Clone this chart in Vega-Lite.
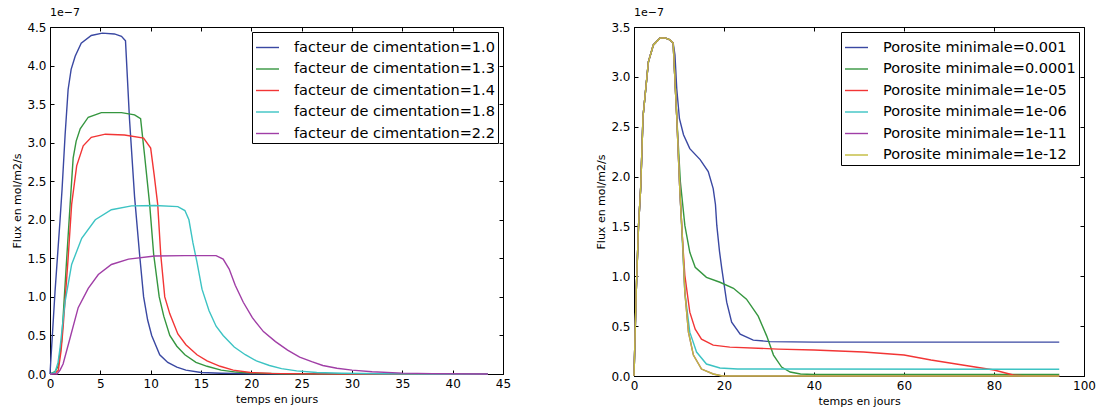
{
  "$schema": "https://vega.github.io/schema/vega-lite/v6.json",
  "background": "white",
  "padding": {"left": 11, "top": 6, "right": 5, "bottom": 5},
  "spacing": 83,
  "config": {
    "font": "DejaVu Sans",
    "view": {"stroke": "black", "strokeWidth": 1},
    "axis": {"grid": false, "domainColor": "black", "tickColor": "black", "tickSize": -4, "labelPadding": 8, "labelFontSize": 12, "labelColor": "black", "titleFontSize": 11, "titleFontWeight": "normal", "titleColor": "black", "labelFont": "DejaVu Sans", "titleFont": "DejaVu Sans", "titlePadding": 4, "labelFlush": false},
    "legend": {"labelFontSize": 14.5, "labelFont": "DejaVu Sans", "labelColor": "black", "symbolType": "stroke", "symbolStrokeWidth": 1.5, "symbolSize": 529, "strokeColor": "black", "fillColor": "white", "padding": 3, "rowPadding": 2.5, "labelOffset": 14, "offset": 5, "cornerRadius": 0, "labelLimit": 400},
    "title": {"fontSize": 11, "fontWeight": "normal", "anchor": "start", "frame": "group", "font": "DejaVu Sans", "offset": 3, "color": "black"},
    "line": {"strokeWidth": 1.4}
  },
  "datasets": {
    "cim": [
      {"t": 0, "f": 0, "s": "facteur de cimentation=1.0"},
      {"t": 0.5, "f": 1.07, "s": "facteur de cimentation=1.0"},
      {"t": 1.0, "f": 2.0, "s": "facteur de cimentation=1.0"},
      {"t": 1.2, "f": 2.4, "s": "facteur de cimentation=1.0"},
      {"t": 1.5, "f": 3.1, "s": "facteur de cimentation=1.0"},
      {"t": 1.8, "f": 3.69, "s": "facteur de cimentation=1.0"},
      {"t": 2.1, "f": 3.95, "s": "facteur de cimentation=1.0"},
      {"t": 2.5, "f": 4.12, "s": "facteur de cimentation=1.0"},
      {"t": 3.1, "f": 4.29, "s": "facteur de cimentation=1.0"},
      {"t": 4.1, "f": 4.39, "s": "facteur de cimentation=1.0"},
      {"t": 5.2, "f": 4.42, "s": "facteur de cimentation=1.0"},
      {"t": 6.4, "f": 4.41, "s": "facteur de cimentation=1.0"},
      {"t": 7.1, "f": 4.38, "s": "facteur de cimentation=1.0"},
      {"t": 7.5, "f": 4.32, "s": "facteur de cimentation=1.0"},
      {"t": 7.9, "f": 3.3, "s": "facteur de cimentation=1.0"},
      {"t": 8.4, "f": 2.3, "s": "facteur de cimentation=1.0"},
      {"t": 8.9, "f": 1.55, "s": "facteur de cimentation=1.0"},
      {"t": 9.3, "f": 1.0, "s": "facteur de cimentation=1.0"},
      {"t": 9.7, "f": 0.7, "s": "facteur de cimentation=1.0"},
      {"t": 10.1, "f": 0.5, "s": "facteur de cimentation=1.0"},
      {"t": 10.9, "f": 0.25, "s": "facteur de cimentation=1.0"},
      {"t": 11.7, "f": 0.15, "s": "facteur de cimentation=1.0"},
      {"t": 12.6, "f": 0.09, "s": "facteur de cimentation=1.0"},
      {"t": 13.5, "f": 0.05, "s": "facteur de cimentation=1.0"},
      {"t": 15, "f": 0.02, "s": "facteur de cimentation=1.0"},
      {"t": 17, "f": 0.01, "s": "facteur de cimentation=1.0"},
      {"t": 20, "f": 0.003, "s": "facteur de cimentation=1.0"},
      {"t": 25, "f": 0, "s": "facteur de cimentation=1.0"},
      {"t": 43.5, "f": 0, "s": "facteur de cimentation=1.0"},

      {"t": 0, "f": 0, "s": "facteur de cimentation=1.3"},
      {"t": 0.5, "f": 0.03, "s": "facteur de cimentation=1.3"},
      {"t": 0.8, "f": 0.1, "s": "facteur de cimentation=1.3"},
      {"t": 1.16, "f": 0.43, "s": "facteur de cimentation=1.3"},
      {"t": 1.4, "f": 0.95, "s": "facteur de cimentation=1.3"},
      {"t": 1.66, "f": 1.5, "s": "facteur de cimentation=1.3"},
      {"t": 2.0, "f": 2.2, "s": "facteur de cimentation=1.3"},
      {"t": 2.3, "f": 2.8, "s": "facteur de cimentation=1.3"},
      {"t": 2.6, "f": 3.02, "s": "facteur de cimentation=1.3"},
      {"t": 3.0, "f": 3.18, "s": "facteur de cimentation=1.3"},
      {"t": 3.8, "f": 3.33, "s": "facteur de cimentation=1.3"},
      {"t": 5.1, "f": 3.39, "s": "facteur de cimentation=1.3"},
      {"t": 7.1, "f": 3.39, "s": "facteur de cimentation=1.3"},
      {"t": 8.4, "f": 3.36, "s": "facteur de cimentation=1.3"},
      {"t": 9.0, "f": 3.31, "s": "facteur de cimentation=1.3"},
      {"t": 9.4, "f": 2.83, "s": "facteur de cimentation=1.3"},
      {"t": 9.9, "f": 2.2, "s": "facteur de cimentation=1.3"},
      {"t": 10.3, "f": 1.55, "s": "facteur de cimentation=1.3"},
      {"t": 10.85, "f": 1.0, "s": "facteur de cimentation=1.3"},
      {"t": 11.3, "f": 0.75, "s": "facteur de cimentation=1.3"},
      {"t": 11.9, "f": 0.5, "s": "facteur de cimentation=1.3"},
      {"t": 12.6, "f": 0.36, "s": "facteur de cimentation=1.3"},
      {"t": 13.4, "f": 0.25, "s": "facteur de cimentation=1.3"},
      {"t": 14.5, "f": 0.15, "s": "facteur de cimentation=1.3"},
      {"t": 15.6, "f": 0.1, "s": "facteur de cimentation=1.3"},
      {"t": 17, "f": 0.05, "s": "facteur de cimentation=1.3"},
      {"t": 18.5, "f": 0.025, "s": "facteur de cimentation=1.3"},
      {"t": 20, "f": 0.012, "s": "facteur de cimentation=1.3"},
      {"t": 23, "f": 0.004, "s": "facteur de cimentation=1.3"},
      {"t": 27, "f": 0, "s": "facteur de cimentation=1.3"},
      {"t": 43.5, "f": 0, "s": "facteur de cimentation=1.3"},

      {"t": 0, "f": 0, "s": "facteur de cimentation=1.4"},
      {"t": 0.5, "f": 0.01, "s": "facteur de cimentation=1.4"},
      {"t": 0.83, "f": 0.05, "s": "facteur de cimentation=1.4"},
      {"t": 1.1, "f": 0.3, "s": "facteur de cimentation=1.4"},
      {"t": 1.3, "f": 0.6, "s": "facteur de cimentation=1.4"},
      {"t": 1.8, "f": 1.5, "s": "facteur de cimentation=1.4"},
      {"t": 2.15, "f": 2.2, "s": "facteur de cimentation=1.4"},
      {"t": 2.65, "f": 2.7, "s": "facteur de cimentation=1.4"},
      {"t": 3.3, "f": 2.96, "s": "facteur de cimentation=1.4"},
      {"t": 4.1, "f": 3.07, "s": "facteur de cimentation=1.4"},
      {"t": 5.5, "f": 3.11, "s": "facteur de cimentation=1.4"},
      {"t": 7.4, "f": 3.1, "s": "facteur de cimentation=1.4"},
      {"t": 9.3, "f": 3.06, "s": "facteur de cimentation=1.4"},
      {"t": 10.0, "f": 2.93, "s": "facteur de cimentation=1.4"},
      {"t": 10.35, "f": 2.58, "s": "facteur de cimentation=1.4"},
      {"t": 10.7, "f": 2.2, "s": "facteur de cimentation=1.4"},
      {"t": 11.0, "f": 1.55, "s": "facteur de cimentation=1.4"},
      {"t": 11.4, "f": 1.0, "s": "facteur de cimentation=1.4"},
      {"t": 11.9, "f": 0.78, "s": "facteur de cimentation=1.4"},
      {"t": 12.7, "f": 0.52, "s": "facteur de cimentation=1.4"},
      {"t": 13.5, "f": 0.38, "s": "facteur de cimentation=1.4"},
      {"t": 14.6, "f": 0.25, "s": "facteur de cimentation=1.4"},
      {"t": 15.6, "f": 0.17, "s": "facteur de cimentation=1.4"},
      {"t": 16.9, "f": 0.1, "s": "facteur de cimentation=1.4"},
      {"t": 18.2, "f": 0.05, "s": "facteur de cimentation=1.4"},
      {"t": 19.9, "f": 0.02, "s": "facteur de cimentation=1.4"},
      {"t": 22, "f": 0.008, "s": "facteur de cimentation=1.4"},
      {"t": 26, "f": 0.002, "s": "facteur de cimentation=1.4"},
      {"t": 30, "f": 0, "s": "facteur de cimentation=1.4"},
      {"t": 43.5, "f": 0, "s": "facteur de cimentation=1.4"},

      {"t": 0, "f": 0, "s": "facteur de cimentation=1.8"},
      {"t": 0.5, "f": 0.02, "s": "facteur de cimentation=1.8"},
      {"t": 0.8, "f": 0.15, "s": "facteur de cimentation=1.8"},
      {"t": 1.0, "f": 0.34, "s": "facteur de cimentation=1.8"},
      {"t": 1.5, "f": 0.94, "s": "facteur de cimentation=1.8"},
      {"t": 2.15, "f": 1.42, "s": "facteur de cimentation=1.8"},
      {"t": 3.15, "f": 1.76, "s": "facteur de cimentation=1.8"},
      {"t": 4.5, "f": 2.0, "s": "facteur de cimentation=1.8"},
      {"t": 6.1, "f": 2.13, "s": "facteur de cimentation=1.8"},
      {"t": 8.1, "f": 2.18, "s": "facteur de cimentation=1.8"},
      {"t": 10.4, "f": 2.185, "s": "facteur de cimentation=1.8"},
      {"t": 12.7, "f": 2.17, "s": "facteur de cimentation=1.8"},
      {"t": 13.4, "f": 2.12, "s": "facteur de cimentation=1.8"},
      {"t": 13.8, "f": 2.0, "s": "facteur de cimentation=1.8"},
      {"t": 14.2, "f": 1.7, "s": "facteur de cimentation=1.8"},
      {"t": 14.6, "f": 1.45, "s": "facteur de cimentation=1.8"},
      {"t": 15.1, "f": 1.1, "s": "facteur de cimentation=1.8"},
      {"t": 15.8, "f": 0.82, "s": "facteur de cimentation=1.8"},
      {"t": 16.5, "f": 0.62, "s": "facteur de cimentation=1.8"},
      {"t": 17.2, "f": 0.5, "s": "facteur de cimentation=1.8"},
      {"t": 18.3, "f": 0.35, "s": "facteur de cimentation=1.8"},
      {"t": 19.4, "f": 0.25, "s": "facteur de cimentation=1.8"},
      {"t": 20.5, "f": 0.17, "s": "facteur de cimentation=1.8"},
      {"t": 21.8, "f": 0.11, "s": "facteur de cimentation=1.8"},
      {"t": 23, "f": 0.07, "s": "facteur de cimentation=1.8"},
      {"t": 24.5, "f": 0.04, "s": "facteur de cimentation=1.8"},
      {"t": 26.5, "f": 0.02, "s": "facteur de cimentation=1.8"},
      {"t": 29, "f": 0.01, "s": "facteur de cimentation=1.8"},
      {"t": 33, "f": 0.003, "s": "facteur de cimentation=1.8"},
      {"t": 38, "f": 0, "s": "facteur de cimentation=1.8"},
      {"t": 43.5, "f": 0, "s": "facteur de cimentation=1.8"},

      {"t": 0, "f": 0, "s": "facteur de cimentation=2.2"},
      {"t": 0.7, "f": 0, "s": "facteur de cimentation=2.2"},
      {"t": 1.0, "f": 0.05, "s": "facteur de cimentation=2.2"},
      {"t": 1.3, "f": 0.13, "s": "facteur de cimentation=2.2"},
      {"t": 2.0, "f": 0.47, "s": "facteur de cimentation=2.2"},
      {"t": 2.8, "f": 0.86, "s": "facteur de cimentation=2.2"},
      {"t": 3.8, "f": 1.11, "s": "facteur de cimentation=2.2"},
      {"t": 4.8, "f": 1.29, "s": "facteur de cimentation=2.2"},
      {"t": 6.1, "f": 1.42, "s": "facteur de cimentation=2.2"},
      {"t": 7.8, "f": 1.49, "s": "facteur de cimentation=2.2"},
      {"t": 10.4, "f": 1.53, "s": "facteur de cimentation=2.2"},
      {"t": 13.4, "f": 1.535, "s": "facteur de cimentation=2.2"},
      {"t": 16.5, "f": 1.535, "s": "facteur de cimentation=2.2"},
      {"t": 17.2, "f": 1.49, "s": "facteur de cimentation=2.2"},
      {"t": 17.8, "f": 1.36, "s": "facteur de cimentation=2.2"},
      {"t": 18.4, "f": 1.15, "s": "facteur de cimentation=2.2"},
      {"t": 19.2, "f": 0.93, "s": "facteur de cimentation=2.2"},
      {"t": 20.1, "f": 0.73, "s": "facteur de cimentation=2.2"},
      {"t": 21.2, "f": 0.55, "s": "facteur de cimentation=2.2"},
      {"t": 22.4, "f": 0.42, "s": "facteur de cimentation=2.2"},
      {"t": 23.6, "f": 0.31, "s": "facteur de cimentation=2.2"},
      {"t": 24.8, "f": 0.22, "s": "facteur de cimentation=2.2"},
      {"t": 26, "f": 0.16, "s": "facteur de cimentation=2.2"},
      {"t": 27.1, "f": 0.11, "s": "facteur de cimentation=2.2"},
      {"t": 28.5, "f": 0.075, "s": "facteur de cimentation=2.2"},
      {"t": 30, "f": 0.05, "s": "facteur de cimentation=2.2"},
      {"t": 32, "f": 0.03, "s": "facteur de cimentation=2.2"},
      {"t": 35, "f": 0.012, "s": "facteur de cimentation=2.2"},
      {"t": 38, "f": 0.005, "s": "facteur de cimentation=2.2"},
      {"t": 43.5, "f": 0, "s": "facteur de cimentation=2.2"}
    ],
    "poro": [
      {"t": 0, "f": 0, "s": "Porosite minimale=0.001"},
      {"t": 0.5, "f": 0.85, "s": "Porosite minimale=0.001"},
      {"t": 1.0, "f": 1.5, "s": "Porosite minimale=0.001"},
      {"t": 1.5, "f": 1.9, "s": "Porosite minimale=0.001"},
      {"t": 2.0, "f": 2.6, "s": "Porosite minimale=0.001"},
      {"t": 3.2, "f": 3.15, "s": "Porosite minimale=0.001"},
      {"t": 4.3, "f": 3.32, "s": "Porosite minimale=0.001"},
      {"t": 5.8, "f": 3.39, "s": "Porosite minimale=0.001"},
      {"t": 6.9, "f": 3.39, "s": "Porosite minimale=0.001"},
      {"t": 8.0, "f": 3.37, "s": "Porosite minimale=0.001"},
      {"t": 8.7, "f": 3.34, "s": "Porosite minimale=0.001"},
      {"t": 9.1, "f": 3.22, "s": "Porosite minimale=0.001"},
      {"t": 9.5, "f": 2.88, "s": "Porosite minimale=0.001"},
      {"t": 10.1, "f": 2.58, "s": "Porosite minimale=0.001"},
      {"t": 11.0, "f": 2.42, "s": "Porosite minimale=0.001"},
      {"t": 12.4, "f": 2.28, "s": "Porosite minimale=0.001"},
      {"t": 14.7, "f": 2.17, "s": "Porosite minimale=0.001"},
      {"t": 16.5, "f": 2.05, "s": "Porosite minimale=0.001"},
      {"t": 17.6, "f": 1.88, "s": "Porosite minimale=0.001"},
      {"t": 18.1, "f": 1.72, "s": "Porosite minimale=0.001"},
      {"t": 18.4, "f": 1.51, "s": "Porosite minimale=0.001"},
      {"t": 19.0, "f": 1.25, "s": "Porosite minimale=0.001"},
      {"t": 19.5, "f": 1.08, "s": "Porosite minimale=0.001"},
      {"t": 20.6, "f": 0.74, "s": "Porosite minimale=0.001"},
      {"t": 21.7, "f": 0.54, "s": "Porosite minimale=0.001"},
      {"t": 23.6, "f": 0.42, "s": "Porosite minimale=0.001"},
      {"t": 26.5, "f": 0.36, "s": "Porosite minimale=0.001"},
      {"t": 30.2, "f": 0.345, "s": "Porosite minimale=0.001"},
      {"t": 40, "f": 0.34, "s": "Porosite minimale=0.001"},
      {"t": 94.5, "f": 0.34, "s": "Porosite minimale=0.001"},

      {"t": 0, "f": 0, "s": "Porosite minimale=0.0001"},
      {"t": 0.5, "f": 0.85, "s": "Porosite minimale=0.0001"},
      {"t": 1.0, "f": 1.5, "s": "Porosite minimale=0.0001"},
      {"t": 1.5, "f": 1.9, "s": "Porosite minimale=0.0001"},
      {"t": 2.0, "f": 2.6, "s": "Porosite minimale=0.0001"},
      {"t": 3.2, "f": 3.15, "s": "Porosite minimale=0.0001"},
      {"t": 4.3, "f": 3.32, "s": "Porosite minimale=0.0001"},
      {"t": 5.8, "f": 3.39, "s": "Porosite minimale=0.0001"},
      {"t": 6.9, "f": 3.39, "s": "Porosite minimale=0.0001"},
      {"t": 8.0, "f": 3.37, "s": "Porosite minimale=0.0001"},
      {"t": 8.7, "f": 3.34, "s": "Porosite minimale=0.0001"},
      {"t": 9.5, "f": 2.6, "s": "Porosite minimale=0.0001"},
      {"t": 10.3, "f": 1.95, "s": "Porosite minimale=0.0001"},
      {"t": 11.3, "f": 1.51, "s": "Porosite minimale=0.0001"},
      {"t": 12.4, "f": 1.24, "s": "Porosite minimale=0.0001"},
      {"t": 13.6, "f": 1.09, "s": "Porosite minimale=0.0001"},
      {"t": 16.1, "f": 0.99, "s": "Porosite minimale=0.0001"},
      {"t": 19.1, "f": 0.94, "s": "Porosite minimale=0.0001"},
      {"t": 22.1, "f": 0.88, "s": "Porosite minimale=0.0001"},
      {"t": 25, "f": 0.77, "s": "Porosite minimale=0.0001"},
      {"t": 27.6, "f": 0.6, "s": "Porosite minimale=0.0001"},
      {"t": 29.5, "f": 0.4, "s": "Porosite minimale=0.0001"},
      {"t": 31, "f": 0.21, "s": "Porosite minimale=0.0001"},
      {"t": 32.8, "f": 0.09, "s": "Porosite minimale=0.0001"},
      {"t": 34.7, "f": 0.04, "s": "Porosite minimale=0.0001"},
      {"t": 37, "f": 0.02, "s": "Porosite minimale=0.0001"},
      {"t": 40, "f": 0.015, "s": "Porosite minimale=0.0001"},
      {"t": 94.5, "f": 0.015, "s": "Porosite minimale=0.0001"},

      {"t": 0, "f": 0, "s": "Porosite minimale=1e-05"},
      {"t": 0.5, "f": 0.85, "s": "Porosite minimale=1e-05"},
      {"t": 1.0, "f": 1.5, "s": "Porosite minimale=1e-05"},
      {"t": 1.5, "f": 1.9, "s": "Porosite minimale=1e-05"},
      {"t": 2.0, "f": 2.6, "s": "Porosite minimale=1e-05"},
      {"t": 3.2, "f": 3.15, "s": "Porosite minimale=1e-05"},
      {"t": 4.3, "f": 3.32, "s": "Porosite minimale=1e-05"},
      {"t": 5.8, "f": 3.39, "s": "Porosite minimale=1e-05"},
      {"t": 6.9, "f": 3.39, "s": "Porosite minimale=1e-05"},
      {"t": 8.0, "f": 3.37, "s": "Porosite minimale=1e-05"},
      {"t": 8.7, "f": 3.34, "s": "Porosite minimale=1e-05"},
      {"t": 9.5, "f": 2.6, "s": "Porosite minimale=1e-05"},
      {"t": 10.2, "f": 1.85, "s": "Porosite minimale=1e-05"},
      {"t": 10.8, "f": 1.35, "s": "Porosite minimale=1e-05"},
      {"t": 11.3, "f": 1.01, "s": "Porosite minimale=1e-05"},
      {"t": 12.4, "f": 0.64, "s": "Porosite minimale=1e-05"},
      {"t": 13.6, "f": 0.47, "s": "Porosite minimale=1e-05"},
      {"t": 15.0, "f": 0.37, "s": "Porosite minimale=1e-05"},
      {"t": 17.6, "f": 0.31, "s": "Porosite minimale=1e-05"},
      {"t": 21.3, "f": 0.29, "s": "Porosite minimale=1e-05"},
      {"t": 32, "f": 0.27, "s": "Porosite minimale=1e-05"},
      {"t": 40, "f": 0.26, "s": "Porosite minimale=1e-05"},
      {"t": 51, "f": 0.24, "s": "Porosite minimale=1e-05"},
      {"t": 60, "f": 0.21, "s": "Porosite minimale=1e-05"},
      {"t": 66, "f": 0.16, "s": "Porosite minimale=1e-05"},
      {"t": 73, "f": 0.11, "s": "Porosite minimale=1e-05"},
      {"t": 80, "f": 0.06, "s": "Porosite minimale=1e-05"},
      {"t": 84.3, "f": 0.01, "s": "Porosite minimale=1e-05"},
      {"t": 87, "f": 0, "s": "Porosite minimale=1e-05"},
      {"t": 94.5, "f": 0, "s": "Porosite minimale=1e-05"},

      {"t": 0, "f": 0, "s": "Porosite minimale=1e-06"},
      {"t": 0.5, "f": 0.85, "s": "Porosite minimale=1e-06"},
      {"t": 1.0, "f": 1.5, "s": "Porosite minimale=1e-06"},
      {"t": 1.5, "f": 1.9, "s": "Porosite minimale=1e-06"},
      {"t": 2.0, "f": 2.6, "s": "Porosite minimale=1e-06"},
      {"t": 3.2, "f": 3.15, "s": "Porosite minimale=1e-06"},
      {"t": 4.3, "f": 3.32, "s": "Porosite minimale=1e-06"},
      {"t": 5.8, "f": 3.39, "s": "Porosite minimale=1e-06"},
      {"t": 6.9, "f": 3.39, "s": "Porosite minimale=1e-06"},
      {"t": 8.0, "f": 3.37, "s": "Porosite minimale=1e-06"},
      {"t": 8.7, "f": 3.34, "s": "Porosite minimale=1e-06"},
      {"t": 9.5, "f": 2.6, "s": "Porosite minimale=1e-06"},
      {"t": 10.2, "f": 1.85, "s": "Porosite minimale=1e-06"},
      {"t": 10.8, "f": 1.3, "s": "Porosite minimale=1e-06"},
      {"t": 11.3, "f": 0.84, "s": "Porosite minimale=1e-06"},
      {"t": 12.4, "f": 0.44, "s": "Porosite minimale=1e-06"},
      {"t": 13.9, "f": 0.24, "s": "Porosite minimale=1e-06"},
      {"t": 16.1, "f": 0.12, "s": "Porosite minimale=1e-06"},
      {"t": 19.1, "f": 0.08, "s": "Porosite minimale=1e-06"},
      {"t": 23, "f": 0.07, "s": "Porosite minimale=1e-06"},
      {"t": 94.5, "f": 0.067, "s": "Porosite minimale=1e-06"},

      {"t": 0, "f": 0, "s": "Porosite minimale=1e-11"},
      {"t": 0.5, "f": 0.85, "s": "Porosite minimale=1e-11"},
      {"t": 1.0, "f": 1.5, "s": "Porosite minimale=1e-11"},
      {"t": 1.5, "f": 1.9, "s": "Porosite minimale=1e-11"},
      {"t": 2.0, "f": 2.6, "s": "Porosite minimale=1e-11"},
      {"t": 3.2, "f": 3.15, "s": "Porosite minimale=1e-11"},
      {"t": 4.3, "f": 3.32, "s": "Porosite minimale=1e-11"},
      {"t": 5.8, "f": 3.39, "s": "Porosite minimale=1e-11"},
      {"t": 6.9, "f": 3.39, "s": "Porosite minimale=1e-11"},
      {"t": 8.0, "f": 3.37, "s": "Porosite minimale=1e-11"},
      {"t": 8.7, "f": 3.34, "s": "Porosite minimale=1e-11"},
      {"t": 9.5, "f": 2.6, "s": "Porosite minimale=1e-11"},
      {"t": 10.2, "f": 1.85, "s": "Porosite minimale=1e-11"},
      {"t": 10.8, "f": 1.35, "s": "Porosite minimale=1e-11"},
      {"t": 11.3, "f": 0.84, "s": "Porosite minimale=1e-11"},
      {"t": 12.1, "f": 0.44, "s": "Porosite minimale=1e-11"},
      {"t": 13.2, "f": 0.21, "s": "Porosite minimale=1e-11"},
      {"t": 15.0, "f": 0.07, "s": "Porosite minimale=1e-11"},
      {"t": 17.6, "f": 0.02, "s": "Porosite minimale=1e-11"},
      {"t": 19.6, "f": 0, "s": "Porosite minimale=1e-11"},
      {"t": 94.5, "f": 0, "s": "Porosite minimale=1e-11"},

      {"t": 0, "f": 0, "s": "Porosite minimale=1e-12"},
      {"t": 0.5, "f": 0.85, "s": "Porosite minimale=1e-12"},
      {"t": 1.0, "f": 1.5, "s": "Porosite minimale=1e-12"},
      {"t": 1.5, "f": 1.9, "s": "Porosite minimale=1e-12"},
      {"t": 2.0, "f": 2.6, "s": "Porosite minimale=1e-12"},
      {"t": 3.2, "f": 3.15, "s": "Porosite minimale=1e-12"},
      {"t": 4.3, "f": 3.32, "s": "Porosite minimale=1e-12"},
      {"t": 5.8, "f": 3.39, "s": "Porosite minimale=1e-12"},
      {"t": 6.9, "f": 3.39, "s": "Porosite minimale=1e-12"},
      {"t": 8.0, "f": 3.37, "s": "Porosite minimale=1e-12"},
      {"t": 8.7, "f": 3.34, "s": "Porosite minimale=1e-12"},
      {"t": 9.5, "f": 2.6, "s": "Porosite minimale=1e-12"},
      {"t": 10.2, "f": 1.85, "s": "Porosite minimale=1e-12"},
      {"t": 10.8, "f": 1.35, "s": "Porosite minimale=1e-12"},
      {"t": 11.3, "f": 0.84, "s": "Porosite minimale=1e-12"},
      {"t": 12.1, "f": 0.44, "s": "Porosite minimale=1e-12"},
      {"t": 13.2, "f": 0.21, "s": "Porosite minimale=1e-12"},
      {"t": 15.0, "f": 0.07, "s": "Porosite minimale=1e-12"},
      {"t": 17.6, "f": 0.02, "s": "Porosite minimale=1e-12"},
      {"t": 19.6, "f": 0, "s": "Porosite minimale=1e-12"},
      {"t": 94.5, "f": 0, "s": "Porosite minimale=1e-12"}
    ]
  },
  "hconcat": [
    {
      "width": 453,
      "height": 347,
      "title": "1e−7",
      "data": {"name": "cim"},
      "layer": [
        {
          "mark": {"type": "line", "strokeWidth": 1.4},
          "encoding": {
            "x": {"field": "t", "type": "quantitative", "scale": {"domain": [0, 45], "nice": false}, "axis": {"title": "temps en jours", "values": [0, 5, 10, 15, 20, 25, 30, 35, 40, 45], "format": "d"}},
            "y": {"field": "f", "type": "quantitative", "scale": {"domain": [0, 4.5], "nice": false}, "axis": {"title": "Flux en mol/m2/s", "values": [0, 0.5, 1, 1.5, 2, 2.5, 3, 3.5, 4, 4.5], "format": ".1f"}},
            "color": {"field": "s", "type": "nominal", "scale": {"domain": ["facteur de cimentation=1.0", "facteur de cimentation=1.3", "facteur de cimentation=1.4", "facteur de cimentation=1.8", "facteur de cimentation=2.2"], "range": ["#3a48a2", "#35963f", "#f23535", "#3cc3c3", "#a03ea6"]}, "legend": {"title": null, "orient": "top-right"}}
          }
        },
        {
          "mark": {"type": "point", "opacity": 0},
          "encoding": {
            "x": {"field": "t", "type": "quantitative", "axis": {"orient": "top", "labels": false, "title": null, "domain": false, "values": [0, 5, 10, 15, 20, 25, 30, 35, 40, 45]}},
            "y": {"field": "f", "type": "quantitative", "axis": {"orient": "right", "labels": false, "title": null, "domain": false, "values": [0, 0.5, 1, 1.5, 2, 2.5, 3, 3.5, 4, 4.5]}}
          }
        }
      ],
      "resolve": {"axis": {"x": "independent", "y": "independent"}}
    },
    {
      "width": 450,
      "height": 349,
      "title": "1e−7",
      "data": {"name": "poro"},
      "layer": [
        {
          "mark": {"type": "line", "strokeWidth": 1.4},
          "encoding": {
            "x": {"field": "t", "type": "quantitative", "scale": {"domain": [0, 100], "nice": false}, "axis": {"title": "temps en jours", "values": [0, 20, 40, 60, 80, 100], "format": "d"}},
            "y": {"field": "f", "type": "quantitative", "scale": {"domain": [0, 3.5], "nice": false}, "axis": {"title": "Flux en mol/m2/s", "values": [0, 0.5, 1, 1.5, 2, 2.5, 3, 3.5], "format": ".1f"}},
            "color": {"field": "s", "type": "nominal", "scale": {"domain": ["Porosite minimale=0.001", "Porosite minimale=0.0001", "Porosite minimale=1e-05", "Porosite minimale=1e-06", "Porosite minimale=1e-11", "Porosite minimale=1e-12"], "range": ["#3a48a2", "#35963f", "#f23535", "#3cc3c3", "#a03ea6", "#c2bb3c"]}, "legend": {"title": null, "orient": "top-right"}}
          }
        },
        {
          "mark": {"type": "point", "opacity": 0},
          "encoding": {
            "x": {"field": "t", "type": "quantitative", "axis": {"orient": "top", "labels": false, "title": null, "domain": false, "values": [0, 20, 40, 60, 80, 100]}},
            "y": {"field": "f", "type": "quantitative", "axis": {"orient": "right", "labels": false, "title": null, "domain": false, "values": [0, 0.5, 1, 1.5, 2, 2.5, 3, 3.5]}}
          }
        }
      ],
      "resolve": {"axis": {"x": "independent", "y": "independent"}}
    }
  ],
  "resolve": {"scale": {"color": "independent"}, "legend": {"color": "independent"}}
}
